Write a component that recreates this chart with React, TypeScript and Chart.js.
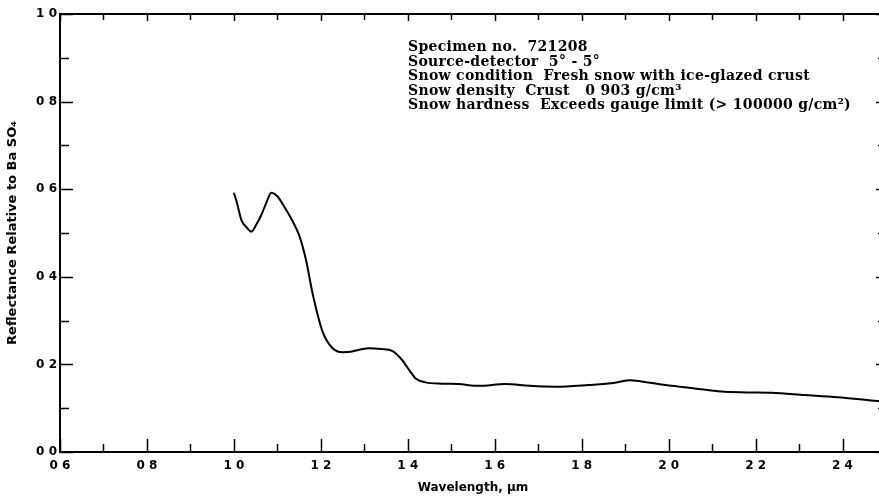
import React, { useEffect, useRef } from "react";
import { Chart, registerables } from "chart.js";

Chart.register(...registerables);

// Spectral reflectance curve (wavelength in micrometres, reflectance relative to BaSO4)
const wavelength = [
  1.0, 1.008, 1.017, 1.03, 1.04, 1.052, 1.063, 1.075, 1.086, 1.1, 1.12, 1.135,
  1.15, 1.166, 1.181, 1.204, 1.227, 1.25, 1.269, 1.29, 1.311, 1.34, 1.364,
  1.387, 1.404, 1.418, 1.441, 1.48, 1.517, 1.563, 1.625, 1.68, 1.739, 1.816,
  1.877, 1.911, 1.938, 2.007, 2.06, 2.121, 2.18, 2.236, 2.313, 2.389, 2.473, 2.5,
];
const reflectance = [
  0.592, 0.565, 0.53, 0.512, 0.503, 0.52, 0.541, 0.57, 0.592, 0.584, 0.553,
  0.527, 0.495, 0.438, 0.362, 0.275, 0.237, 0.228, 0.229, 0.234, 0.237, 0.235,
  0.231, 0.21, 0.186, 0.168, 0.159, 0.156, 0.155, 0.151, 0.155, 0.151, 0.149,
  0.153, 0.158, 0.164, 0.161, 0.151, 0.145, 0.138, 0.136, 0.135, 0.13, 0.125,
  0.117, 0.115,
];

// Axes
const xMajorTicks = [0.6, 0.8, 1.0, 1.2, 1.4, 1.6, 1.8, 2.0, 2.2, 2.4];
const xMinorTicks = [0.7, 0.9, 1.1, 1.3, 1.5, 1.7, 1.9, 2.1, 2.3, 2.5];
const xTickLabels = ["0 6", "0 8", "1 0", "1 2", "1 4", "1 6", "1 8", "2 0", "2 2", "2 4"];
const yMajorTicks = [0, 0.2, 0.4, 0.6, 0.8, 1.0];
const yMinorTicks = [0.1, 0.3, 0.5, 0.7, 0.9];
const yTickLabels = ["0 0", "0 2", "0 4", "0 6", "0 8", "1 0"];
const xTitle = "Wavelength, \u03bcm";
const yTitle = "Reflectance Relative to Ba SO\u2084";

const infoLines = [
  "Specimen no.  721208",
  "Source-detector  5\u00b0 - 5\u00b0",
  "Snow condition  Fresh snow with ice-glazed crust",
  "Snow density  Crust   0 903 g/cm\u00b3",
  "Snow hardness  Exceeds gauge limit (> 100000 g/cm\u00b2)",
];

const tickFont = { family: "'DejaVu Sans', sans-serif", size: 12, weight: "bold" as const };

const frameTicks = {
  id: "frameTicks",
  afterDraw(chart: any) {
    const { ctx, chartArea, scales } = chart;
    const { left, right, top, bottom } = chartArea;
    const x = scales.x;
    const y = scales.y;
    ctx.save();
    ctx.strokeStyle = "#000";
    ctx.lineWidth = 2;
    ctx.beginPath();
    ctx.moveTo(left - 1, top);
    ctx.lineTo(right, top);
    ctx.lineTo(right, bottom);
    ctx.stroke();

    ctx.lineWidth = 1.5;
    ctx.beginPath();
    const vx = (vals: number[], lb: number, lt: number) => {
      vals.forEach((v) => {
        const p = Math.round(x.getPixelForValue(v)) + 0.5;
        ctx.moveTo(p, bottom);
        ctx.lineTo(p, bottom - lb);
        ctx.moveTo(p, top);
        ctx.lineTo(p, top + lt);
      });
    };
    const vy = (vals: number[], ll: number, lr: number) => {
      vals.forEach((v) => {
        const p = Math.round(y.getPixelForValue(v)) + 0.5;
        ctx.moveTo(left, p);
        ctx.lineTo(left + ll, p);
        ctx.moveTo(right, p);
        ctx.lineTo(right - lr, p);
      });
    };
    vx(xMajorTicks, 13, 7);
    vx(xMinorTicks, 8, 6);
    vy(yMajorTicks, 13, 10);
    vy(yMinorTicks, 9, 8);
    ctx.stroke();

    ctx.fillStyle = "#000";
    ctx.font = "bold 14px 'DejaVu Serif', serif";
    try {
      (ctx as any).letterSpacing = "0.3px";
    } catch (e) {}
    ctx.textBaseline = "alphabetic";
    ctx.textAlign = "left";
    infoLines.forEach((t, i) => ctx.fillText(t, 408, 51 + i * 14.5));
    ctx.restore();
  },
};

export default function App() {
  const ref = useRef<HTMLCanvasElement>(null);

  useEffect(() => {
    const chart = new Chart(ref.current as HTMLCanvasElement, {
      type: "line",
      data: {
        datasets: [
          {
            data: wavelength.map((w, i) => ({ x: w, y: reflectance[i] })),
            borderColor: "#000",
            borderWidth: 2,
            pointRadius: 0,
            fill: false,
            cubicInterpolationMode: "monotone",
          },
        ],
      },
      options: {
        animation: false,
        responsive: true,
        maintainAspectRatio: false,
        layout: { padding: { top: 14, right: 6, left: 0, bottom: 0 } },
        plugins: { legend: { display: false }, tooltip: { enabled: false } },
        scales: {
          x: {
            type: "linear",
            min: 0.6,
            max: 2.5,
            afterBuildTicks: (s: any) => {
              s.ticks = xMajorTicks.map((v) => ({ value: v }));
            },
            afterFit: (s: any) => {
              s.height = 47;
            },
            ticks: {
              autoSkip: false,
              maxRotation: 0,
              padding: 7,
              color: "#000",
              font: tickFont,
              callback: (_v: any, i: number) => xTickLabels[i],
            },
            grid: { display: false, drawTicks: false },
            border: { display: true, color: "#000", width: 2 },
            title: {
              display: true,
              text: xTitle,
              color: "#000",
              font: { family: "'DejaVu Sans', sans-serif", size: 12, weight: "bold" },
              padding: { top: 0, bottom: 4 },
            },
          },
          y: {
            type: "linear",
            min: 0,
            max: 1.0,
            afterBuildTicks: (s: any) => {
              s.ticks = yMajorTicks.map((v) => ({ value: v }));
            },
            afterFit: (s: any) => {
              s.width = 60;
            },
            ticks: {
              padding: 3,
              color: "#000",
              font: tickFont,
              callback: (_v: any, i: number) => yTickLabels[i],
            },
            grid: { display: false, drawTicks: false },
            border: { display: true, color: "#000", width: 2 },
            title: {
              display: true,
              text: yTitle,
              color: "#000",
              font: { family: "'DejaVu Sans', sans-serif", size: 13, weight: "bold" },
              padding: { top: 5, bottom: 0 },
            },
          },
        },
      },
      plugins: [frameTicks],
    } as any);
    return () => chart.destroy();
  }, []);

  return (
    <div
      style={{
        position: "fixed",
        left: 0,
        top: 0,
        width: 879,
        height: 499,
        overflow: "hidden",
        background: "#fff",
      }}
    >
      <div style={{ position: "absolute", left: 0, top: 0, width: 892, height: 499 }}>
        <canvas ref={ref} />
      </div>
    </div>
  );
}
